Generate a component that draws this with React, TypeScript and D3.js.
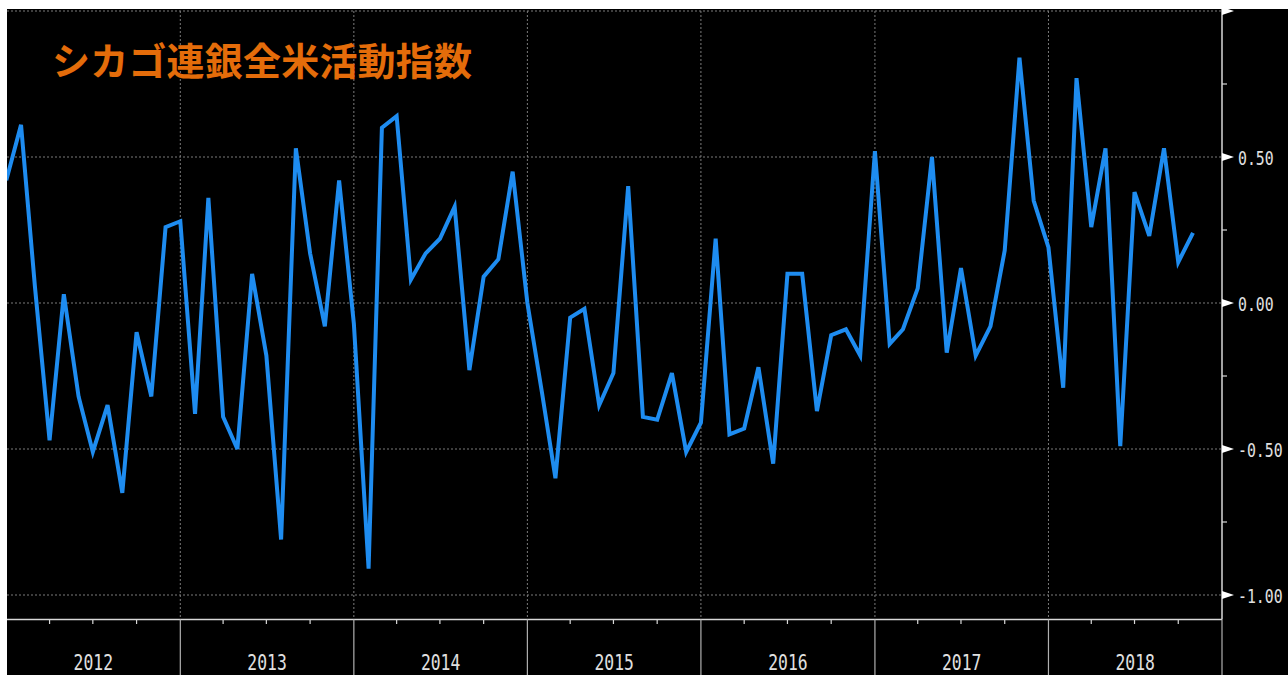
import React from 'react';
import * as d3 from 'd3';

const title = 'シカゴ連銀全米活動指数';
const startMonth = '2012-01';
// Chicago Fed National Activity Index, monthly, Jan 2012 – Nov 2018
const values = [
  0.42, 0.61, 0.06, -0.47, 0.03, -0.32, -0.51, -0.35, -0.65, -0.10, -0.32, 0.26,
  0.28, -0.38, 0.36, -0.39, -0.50, 0.10, -0.18, -0.81, 0.53, 0.17, -0.08, 0.42,
  -0.07, -0.91, 0.60, 0.64, 0.08, 0.17, 0.22, 0.33, -0.23, 0.09, 0.15, 0.45,
  0.00, -0.31, -0.60, -0.05, -0.02, -0.35, -0.24, 0.40, -0.39, -0.40, -0.24, -0.51,
  -0.41, 0.22, -0.45, -0.43, -0.22, -0.55, 0.10, 0.10, -0.37, -0.11, -0.09, -0.18,
  0.52, -0.14, -0.09, 0.05, 0.50, -0.17, 0.12, -0.18, -0.08, 0.18, 0.84, 0.35,
  0.19, -0.29, 0.77, 0.26, 0.53, -0.49, 0.38, 0.23, 0.53, 0.14, 0.24,
];
const years = ['2012', '2013', '2014', '2015', '2016', '2017', '2018'];
const yGridTicks = [1, 0.5, 0, -0.5, -1];
const yMinorTicks = [0.75, 0.25, -0.25, -0.75];
const yLabelValues = [0.5, 0, -0.5, -1];
const yLabels = ['0.50', '0.00', '-0.50', '-1.00'];

export default function App() {
  const W = 1288;
  const H = 675;
  const left = 7;
  const top = 9;
  const parse = d3.timeParse('%Y-%m');
  const start = parse(startMonth) as Date;
  const dates = values.map((_, i) => d3.timeMonth.offset(start, i));
  const x0 = new Date(+years[0], 0, 1);
  const x1 = new Date(+years[years.length - 1] + 1, 0, 1);
  const x = d3.scaleTime().domain([x0, x1]).range([6.3, 1222]);
  const y = d3.scaleLinear().domain([-1, 1]).range([595, 11]);
  const axisY = 619.5;
  const axisX = x(x1);

  const line = d3
    .line<number>()
    .x((_, i) => x(dates[i]))
    .y((d) => y(d));

  const yearStarts = years.map((yr) => new Date(+yr, 0, 1));
  const yearEnds = years.map((yr) => new Date(+yr + 1, 0, 1));
  const quarterTicks = d3.timeMonth
    .every(3)!
    .range(x0, x1)
    .filter((d) => d.getMonth() !== 0);

  const grid = '#7a7a7a';
  const axisCol = '#d8d8d8';

  return (
    <>
      <style>{`html,body{margin:0;padding:0;overflow:hidden;background:#fff}`}</style>
      <svg width={W} height={H} style={{ display: 'block' }}>
        <defs>
          <clipPath id="plotClip">
            <rect x={left} y={top} width={axisX - left} height={axisY - top} />
          </clipPath>
        </defs>
        <rect x={0} y={0} width={W} height={H} fill="#fff" />
        <rect x={left} y={top} width={W - left} height={H - top} fill="#000" />

        {/* horizontal dotted grid */}
        {yGridTicks.map((t) => (
          <line
            key={'hg' + t}
            x1={left}
            x2={axisX}
            y1={y(t)}
            y2={y(t)}
            stroke={grid}
            strokeWidth={1}
            strokeDasharray="2,2"
          />
        ))}
        {/* vertical dotted grid at year boundaries */}
        {yearStarts.slice(1).map((d, i) => (
          <line
            key={'vg' + i}
            x1={x(d)}
            x2={x(d)}
            y1={y(1)}
            y2={axisY}
            stroke={grid}
            strokeWidth={1}
            strokeDasharray="2,2"
          />
        ))}

        {/* title */}
        <text
          x={52}
          y={58}
          fill="#E46C0A"
          fontFamily="'Noto Sans CJK JP', 'Noto Sans CJK SC', sans-serif"
          fontWeight={700}
          fontSize={38}
          dominantBaseline="central"
          textLength={420}
          lengthAdjust="spacing"
        >
          {title}
        </text>

        {/* data line */}
        <path
          d={line(values) || ''}
          fill="none"
          stroke="#1E8CF0"
          strokeWidth={4}
          strokeLinejoin="miter"
          clipPath="url(#plotClip)"
        />

        {/* bottom axis */}
        <line x1={left} x2={axisX} y1={axisY} y2={axisY} stroke={axisCol} strokeWidth={1.5} />
        {quarterTicks.map((d, i) => (
          <line
            key={'qt' + i}
            x1={x(d)}
            x2={x(d)}
            y1={axisY}
            y2={axisY + 4.5}
            stroke={axisCol}
            strokeWidth={1.2}
          />
        ))}
        {yearEnds.slice(0, -1).map((d, i) => (
          <line
            key={'ys' + i}
            x1={x(d)}
            x2={x(d)}
            y1={axisY}
            y2={H}
            stroke="#b0b0b0"
            strokeWidth={1.2}
          />
        ))}
        {years.map((yr, i) => {
          const cx = (x(yearStarts[i]) + x(yearEnds[i])) / 2;
          return (
            <text
              key={'yl' + yr}
              transform={`translate(${cx},670) scale(0.78,1)`}
              textAnchor="middle"
              fill="#e0e0e0"
              fontFamily="'DejaVu Sans Mono', monospace"
              fontSize={21}
            >
              {yr}
            </text>
          );
        })}

        {/* right axis */}
        <line x1={axisX} x2={axisX} y1={top} y2={axisY} stroke={axisCol} strokeWidth={1.5} />
        <line x1={axisX} x2={axisX} y1={axisY} y2={H} stroke="#b0b0b0" strokeWidth={1.2} />
        {yMinorTicks.map((t) => (
          <line
            key={'ym' + t}
            x1={axisX}
            x2={axisX + 5}
            y1={y(t)}
            y2={y(t)}
            stroke={axisCol}
            strokeWidth={1.2}
          />
        ))}
        {yGridTicks.map((t) => (
          <polygon
            key={'tri' + t}
            points={`${axisX},${y(t) - 4} ${axisX + 12},${y(t)} ${axisX},${y(t) + 4}`}
            fill="#ffffff"
          />
        ))}
        {yLabelValues.map((t, i) => (
          <text
            key={'ylab' + t}
            transform={`translate(1238,${y(t) + 1}) scale(0.78,1)`}
            fill="#e0e0e0"
            fontFamily="'DejaVu Sans Mono', monospace"
            fontSize={19}
            dominantBaseline="central"
          >
            {yLabels[i]}
          </text>
        ))}
      </svg>
    </>
  );
}
